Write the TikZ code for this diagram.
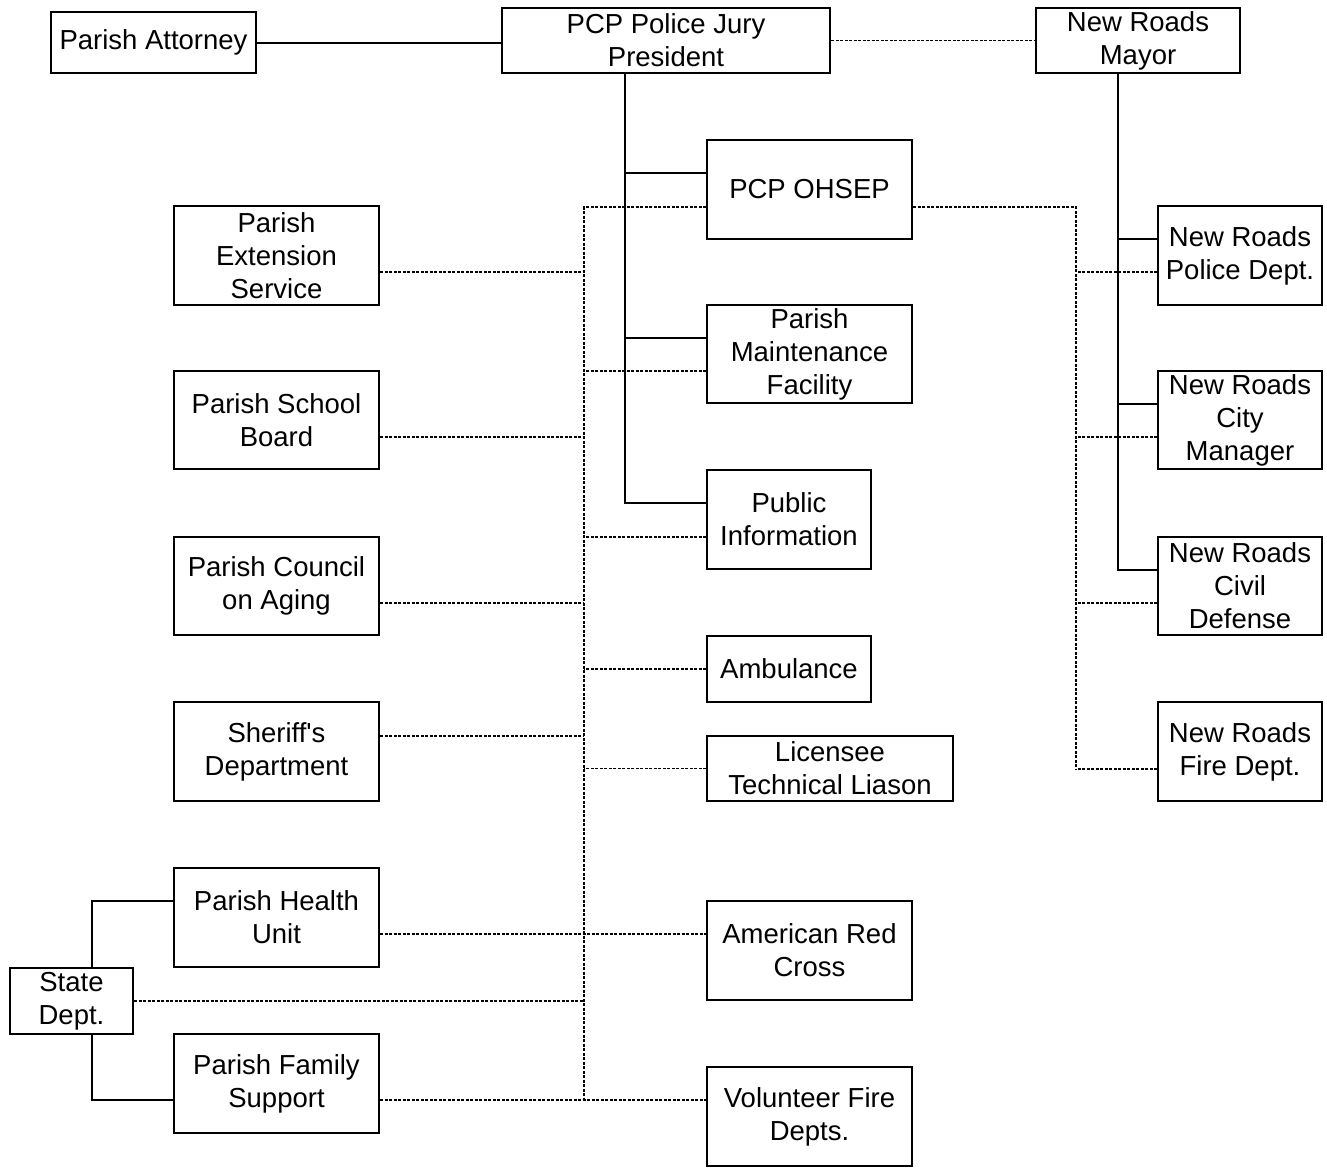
\documentclass[tikz,border=0pt]{standalone}
\usepackage{fontspec}
\setmainfont{Liberation Sans}

\begin{document}
\begin{tikzpicture}
[x=1pt, y=-1pt, every node/.style={inner sep=0pt},
 box/.style={draw=black, line width=2pt, fill=white, align=center, font=\fontsize{27.5}{33}\selectfont},
 solidln/.style={line width=2pt, color=black},
 dotln/.style={line width=1.6pt, color=black, dash pattern=on 3pt off 1.5pt}]
\useasboundingbox (0,0) rectangle (1327,1168);
\node (attorney) [box, minimum width=205pt, minimum height=61pt] at (153.5, 42.5) {Parish Attorney};
\node (president) [box, minimum width=328pt, minimum height=65pt] at (666, 40.5) {PCP Police Jury\\President};
\node (mayor) [box, minimum width=204pt, minimum height=65pt] at (1138, 40.5) {New Roads\\Mayor};
\node (ohsep) [box, minimum width=205pt, minimum height=99pt] at (809.5, 189.5) {PCP OHSEP};
\node (maint) [box, minimum width=205pt, minimum height=98pt] at (809.5, 354) {Parish\\Maintenance\\Facility};
\node (info) [box, minimum width=164pt, minimum height=99pt] at (789, 519.5) {Public\\Information};
\node (ambulance) [box, minimum width=164pt, minimum height=66pt] at (789, 669) {Ambulance};
\node (licensee) [box, minimum width=246pt, minimum height=65pt] at (830, 768.5) {Licensee\\Technical Liason};
\node (redcross) [box, minimum width=205pt, minimum height=99pt] at (809.5, 950.5) {American Red\\Cross};
\node (volunteer) [box, minimum width=205pt, minimum height=99pt] at (809.5, 1116.5) {Volunteer Fire\\Depts.};
\node (extension) [box, minimum width=205pt, minimum height=99pt] at (276.5, 255.5) {Parish\\Extension\\Service};
\node (school) [box, minimum width=205pt, minimum height=98pt] at (276.5, 420) {Parish School\\Board};
\node (aging) [box, minimum width=205pt, minimum height=98pt] at (276.5, 586) {Parish Council\\on Aging};
\node (sheriff) [box, minimum width=205pt, minimum height=99pt] at (276.5, 751.5) {Sheriff\textquotesingle s\\Department};
\node (health) [box, minimum width=205pt, minimum height=99pt] at (276.5, 917.5) {Parish Health\\Unit};
\node (family) [box, minimum width=205pt, minimum height=99pt] at (276.5, 1083.5) {Parish Family\\Support};
\node (state) [box, minimum width=123pt, minimum height=66pt] at (71.5, 1001) {State\\Dept.};
\node (police) [box, minimum width=164pt, minimum height=99pt] at (1240, 255.5) {New Roads\\Police Dept.};
\node (citymgr) [box, minimum width=164pt, minimum height=98pt] at (1240, 420) {New Roads\\City\\Manager};
\node (civil) [box, minimum width=164pt, minimum height=98pt] at (1240, 586) {New Roads\\Civil\\Defense};
\node (fire) [box, minimum width=164pt, minimum height=99pt] at (1240, 751.5) {New Roads\\Fire Dept.};
\coordinate (jury) at (625, 73);
\coordinate (mayorleg) at (1118, 73);
\coordinate (lbustop) at (584, 207);
\coordinate (lbusbot) at (584, 1100);
\coordinate (rbustop) at (1076, 207);
\coordinate (rbusbot) at (1076, 769);
\draw [solidln] (attorney.east) -- (attorney.east -| president.west);
\draw [dotln] (president.east) -- (president.east -| mayor.west);
\foreach \b in {ohsep, maint, info}
  \draw [solidln] (\b.west) ++(0,-16.5) coordinate (t) -| (jury);
\foreach \b in {police, citymgr, civil}
  \draw [solidln] (\b.west) ++(0,-16.5) coordinate (t) -| (mayorleg);
\draw [dotln] (ohsep.west) ++(0,17.5) coordinate (t) -- (t -| lbustop) -- (lbusbot);
\draw [dotln] (ohsep.east) ++(0,17.5) coordinate (t) -- (t -| rbustop) -- (rbusbot);
\foreach \b/\d in {extension/16.5, school/17, aging/17, sheriff/-15.5}
  \draw [dotln] (\b.east) ++(0,\d) coordinate (t) -- (t -| lbustop);
\foreach \b/\d in {maint/17, info/17.5, ambulance/0, licensee/0}
  \draw [dotln] (\b.west) ++(0,\d) coordinate (t) -- (t -| lbustop);
\draw [dotln] (health.east) ++(0,16.5) coordinate (t) -- (t -| redcross.west);
\draw [dotln] (family.east) ++(0,16.5) coordinate (t) -- (t -| volunteer.west);
\draw [dotln] (state.east) -- (state.east -| lbustop);
\foreach \b/\d in {police/16.5, citymgr/17, civil/17, fire/17.5}
  \draw [dotln] (\b.west) ++(0,\d) coordinate (t) -- (t -| rbustop);
\draw [solidln] (health.west) ++(0,-16.5) coordinate (t) -| ([xshift=20.5pt]state.north);
\draw [solidln] (family.west) ++(0,16.5) coordinate (t) -| ([xshift=20.5pt]state.south);
\end{tikzpicture}
\end{document}
